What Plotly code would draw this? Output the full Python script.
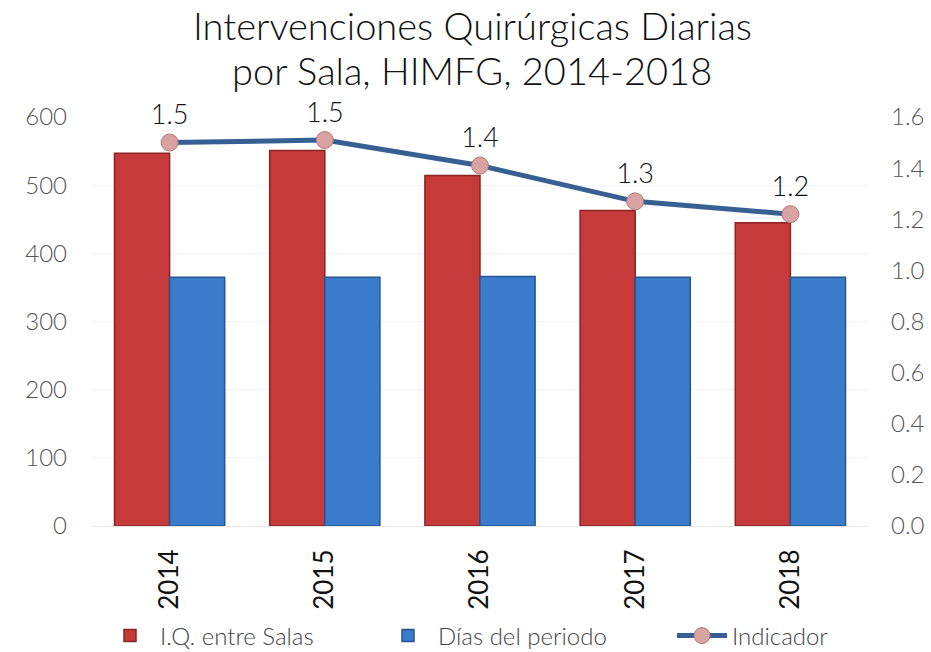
import plotly.graph_objects as go

# Datos por año
years = ["2014", "2015", "2016", "2017", "2018"]
iq_salas = [547, 551, 514, 463, 445]          # I.Q. entre Salas
dias_periodo = [365, 365, 366, 365, 365]      # Días del periodo
indicador = [1.50, 1.51, 1.41, 1.27, 1.22]    # Intervenciones diarias por sala

FONT = "Lato"
PLOT_L, PLOT_W = 92, 776

fig = go.Figure()

fig.add_trace(go.Bar(
    x=years, y=iq_salas, name="I.Q. entre Salas", legend="legend",
    marker=dict(color="#C63A3A", line=dict(color="#8A2424", width=1.5)),
))
fig.add_trace(go.Bar(
    x=years, y=dias_periodo, name="Días del periodo", legend="legend2",
    marker=dict(color="#3A7BCB", line=dict(color="#27568F", width=1.5)),
))
fig.add_trace(go.Scatter(
    x=years, y=indicador, name="Indicador", yaxis="y2", legend="legend3",
    mode="lines+markers+text",
    line=dict(color="#365F93", width=5),
    marker=dict(size=17, color="#D9A3A3", line=dict(color="#B07A7A", width=1)),
    text=[f"{v:.1f}" for v in indicador],
    textposition="top center",
    textfont=dict(family=FONT, size=27, color="#111111", weight=300),
    cliponaxis=False,
))

# Título en dos líneas
for txt, yy in [("Intervenciones Quirúrgicas Diarias", 1.224),
                ("por Sala, HIMFG, 2014-2018", 1.114)]:
    fig.add_annotation(
        text=txt, xref="paper", yref="paper", x=0.49, y=yy,
        xanchor="center", yanchor="middle", showarrow=False,
        font=dict(family=FONT, size=38, color="#111111", weight=300),
    )


def legend_at(px):
    return dict(
        orientation="h", x=(px - PLOT_L) / PLOT_W, xanchor="left",
        yref="container", y=16 / 652, yanchor="middle",
        bgcolor="rgba(0,0,0,0)",
        font=dict(family=FONT, size=24, color="#444444", weight=300),
        itemwidth=50,
    )


fig.update_layout(
    width=931, height=652,
    paper_bgcolor="white", plot_bgcolor="white",
    margin=dict(l=PLOT_L, r=63, t=117, b=126, autoexpand=False),
    barmode="group", bargap=0.29, bargroupgap=0.0,
    xaxis=dict(
        type="category", tickangle=-90, automargin=False,
        tickfont=dict(family=FONT, size=26, color="#111111"),
        showline=True, linecolor="#E6E6E6", ticks="",
        ticklabelstandoff=12,
        showgrid=False,
    ),
    yaxis=dict(
        range=[0, 600], dtick=100, automargin=False,
        tickfont=dict(family=FONT, size=24, color="#555555", weight=300),
        showgrid=True, gridcolor="#F3F3F3", zeroline=False,
        ticks="", ticklabelstandoff=24,
    ),
    yaxis2=dict(
        range=[0, 1.6], dtick=0.2, tickformat=".1f", automargin=False,
        overlaying="y", side="right",
        tickfont=dict(family=FONT, size=24, color="#555555", weight=300),
        showgrid=False, zeroline=False, ticklabelstandoff=22,
    ),
    legend=legend_at(100),
    legend2=legend_at(378),
    legend3=legend_at(672),
    showlegend=True,
)

fig.write_html("out.html")
